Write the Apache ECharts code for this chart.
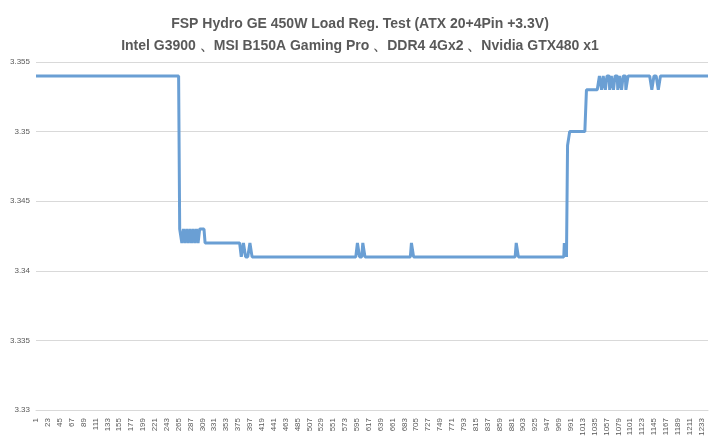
<!DOCTYPE html>
<html><head><meta charset="utf-8">
<script src="https://cdn.jsdelivr.net/npm/echarts@6/dist/echarts.min.js"></script>
<style>html,body{margin:0;padding:0;background:#fff}#c{width:720px;height:444px}</style>
</head><body><div id="c"></div>
<script>
const titleLines = ["FSP Hydro GE 450W Load Reg. Test (ATX 20+4Pin +3.3V)", "Intel G3900 、MSI B150A Gaming Pro 、DDR4 4Gx2 、Nvidia GTX480 x1"];
// run-length segments: value, length (samples)
const segVals = [3.354,
 3.343,3.342,3.343,3.342,3.343,3.342,3.343,3.342,3.343,3.342,3.343,3.342,3.343,
 3.342,3.341,3.342,3.341,3.342,3.341,3.342,3.341,3.342,3.341,3.342,3.341,3.342,3.341,3.342,3.341,
 3.349,3.350,3.353,
 3.354,3.353,3.354,3.353,3.354,3.353,3.354,3.353,3.354,3.353,3.354,3.353,3.354,3.353,3.354,
 3.354,3.353,3.354,3.353,3.354];
const segLens = [266,
 4,3,3,3,3,3,3,3,3,3,3,3,10,
 67,4,4,8,4,195,4,6,4,86,4,190,4,85,4,2,
 4,31,24,
 4,3,4,3,5,3,4,3,5,3,4,3,5,4,12,
 32,4,8,4,89];
const values = [];
segVals.forEach((v,i)=>{for(let k=0;k<segLens[i];k++) values.push(v);});
const categories = values.map((_,i)=>String(i+1));
const chart = echarts.init(document.getElementById('c'));
chart.setOption({
  animation:false,
  title:{text:titleLines.join('\n'),left:'center',top:8,textStyle:{fontSize:14,fontWeight:'bold',color:'#595959',lineHeight:22,fontFamily:'Liberation Sans'}},
  grid:{left:36,right:12,top:62,bottom:34},
  xAxis:{type:'category',data:categories,boundaryGap:false,
    axisLine:{lineStyle:{color:'#d9d9d9'}},axisTick:{show:false},
    axisLabel:{interval:21,rotate:90,fontSize:8,color:'#595959',fontFamily:'Liberation Sans'}},
  yAxis:{type:'value',min:3.33,max:3.355,interval:0.005,
    axisLine:{show:false},axisTick:{show:false},
    splitLine:{lineStyle:{color:'#d9d9d9'}},
    axisLabel:{fontSize:8,color:'#595959',fontFamily:'Liberation Sans',margin:6,formatter:v=>String(+v.toFixed(3))}},
  series:[{type:'line',data:values,showSymbol:false,lineStyle:{width:3,color:'#6a9fd4'},itemStyle:{color:'#6a9fd4'}}]
});
</script></body></html>
